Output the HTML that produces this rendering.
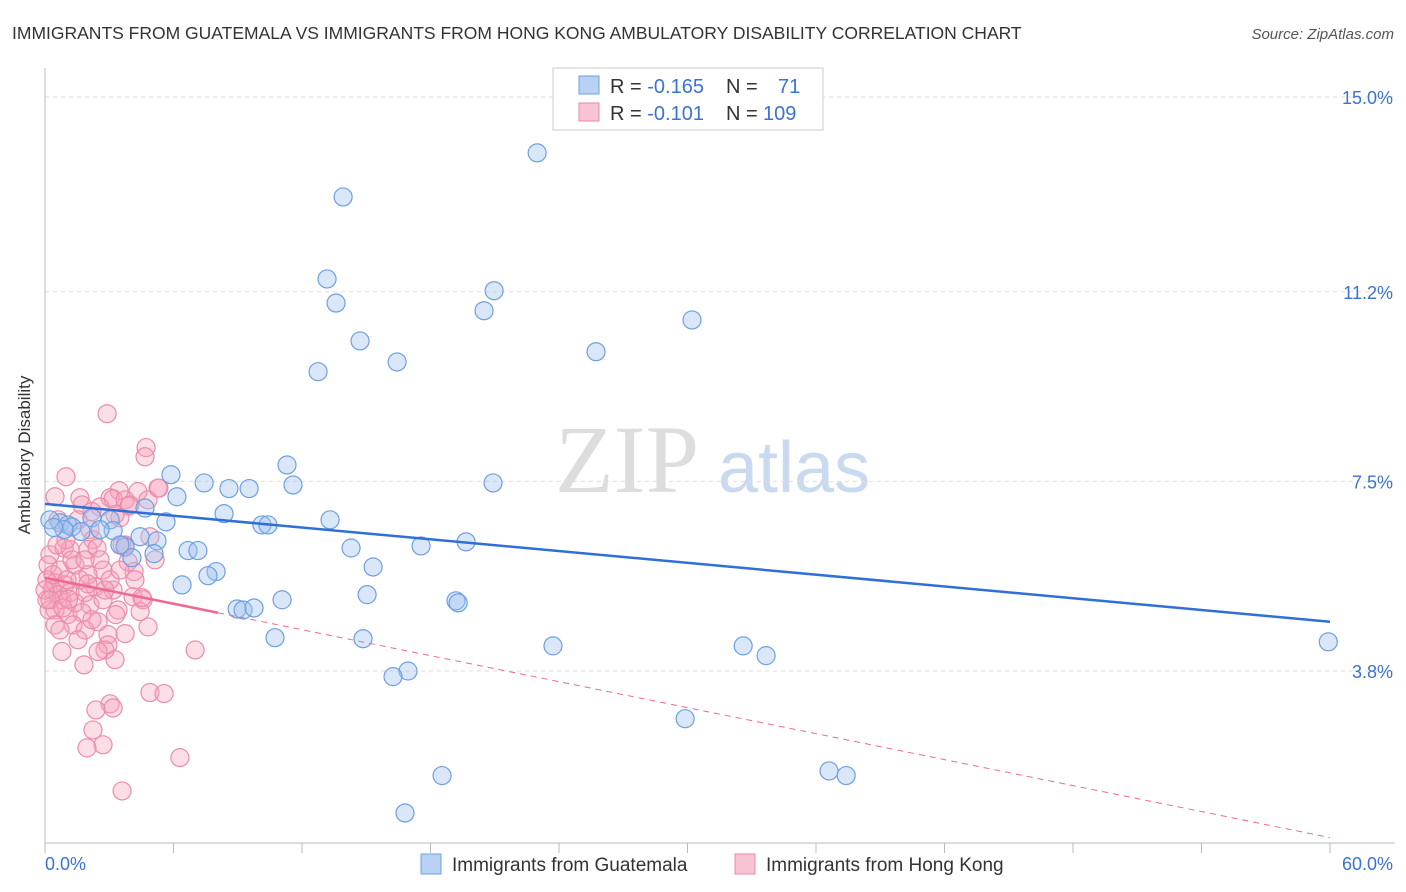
<!DOCTYPE html>
<html><head><meta charset="utf-8"><style>
body{margin:0;background:#fff;font-family:"Liberation Sans",sans-serif;}
#wrap{position:relative;width:1406px;height:892px;overflow:hidden}
</style></head><body>
<div id="wrap">
<svg id="svg" width="1406" height="892" xmlns="http://www.w3.org/2000/svg">
<text x="12" y="39" font-size="17.5" fill="#333">IMMIGRANTS FROM GUATEMALA VS IMMIGRANTS FROM HONG KONG AMBULATORY DISABILITY CORRELATION CHART</text>
<text x="1394" y="39" font-size="15" fill="#555" font-style="italic" text-anchor="end">Source: ZipAtlas.com</text>
<text x="30" y="455" font-size="17" fill="#333" text-anchor="middle" transform="rotate(-90 30 455)">Ambulatory Disability</text>
<text x="555" y="492" font-size="96" fill="#ddd" font-family="Liberation Serif,serif">ZIP</text>
<text x="718" y="492" font-size="72" fill="#c9d9f0">atlas</text>
<g id="grid"></g><g id="axes"></g><g id="pts"></g><g id="trend"></g>
<g>
<rect x="553" y="68" width="270" height="62" fill="#fff" stroke="#ccc"/>
<rect x="579" y="76" width="20" height="18" fill="#b9d1f3" stroke="#6f9fe0"/>
<rect x="579" y="103" width="20" height="18" fill="#f8c3d3" stroke="#e889a8"/>
<text x="610" y="93" font-size="20" fill="#333">R = <tspan fill="#3a73d1">-0.165</tspan><tspan x="726">N =</tspan><tspan x="778" fill="#3a73d1">71</tspan></text>
<text x="610" y="120" font-size="20" fill="#333">R = <tspan fill="#3a73d1"> -0.101</tspan><tspan x="726">N =</tspan><tspan x="763" fill="#3a73d1">109</tspan></text>
</g>
<g>
<rect x="421" y="854" width="20" height="20" fill="#b9d1f3" stroke="#6f9fe0"/>
<text x="452" y="871" font-size="19" fill="#333">Immigrants from Guatemala</text>
<rect x="735" y="854" width="20" height="20" fill="#f8c3d3" stroke="#e889a8"/>
<text x="766" y="871" font-size="19" fill="#333">Immigrants from Hong Kong</text>
</g>
</svg>
</div>
<script>
const yTicks=[3.8,7.5,11.2,15.0];
const yTickLabels=["3.8%","7.5%","11.2%","15.0%"];
const xTickLabels=["0.0%","60.0%"];
const guatX=[22.98,13.92,13.17,20.97,13.59,20.50,30.21,14.71,25.73,16.44,12.75,5.88,11.30,7.43,11.58,8.59,9.53,6.16,20.92,4.67,8.36,13.31,5.65,10.13,10.41,0.70,1.07,1.26,2.19,3.04,3.18,3.74,4.44,5.23,5.09,4.06,6.68,7.14,14.29,17.56,19.66,15.32,7.99,7.61,6.40,15.04,11.07,8.97,9.25,9.76,19.19,19.29,10.74,14.85,23.72,32.60,33.67,16.95,16.25,29.89,18.54,36.61,37.41,16.81,59.92,0.23,2.57,1.68,0.89,3.50,0.4];
const guatY=[13.91,13.05,11.45,11.22,10.98,10.83,10.65,10.24,10.03,9.83,9.64,7.63,7.82,7.47,7.43,7.36,7.36,7.20,7.47,6.98,6.87,6.75,6.71,6.65,6.65,6.69,6.65,6.61,6.79,6.75,6.54,6.22,6.42,6.34,6.09,6.01,6.15,6.15,6.20,6.24,6.32,5.83,5.74,5.66,5.48,5.29,5.19,5.01,4.99,5.03,5.17,5.13,4.45,4.43,4.29,4.29,4.10,3.80,3.69,2.87,1.76,1.85,1.76,1.03,4.37,6.75,6.56,6.52,6.56,6.26,6.6];
const hkX=[2.90,4.72,4.67,0.98,5.32,3.46,0.47,1.63,3.04,3.18,3.74,1.73,2.57,3.92,3.50,0.61,2.10,3.74,2.24,4.90,0.89,5.14,1.17,2.01,2.43,3.60,0.23,0.14,0.70,1.40,2.57,3.88,4.16,2.71,0.09,0.47,0.93,1.63,2.34,0.33,0.61,1.17,1.87,3.18,4.11,4.58,4.44,0.79,1.40,2.10,0.47,1.07,1.73,2.48,1.31,0.47,1.87,3.74,2.94,2.94,2.80,3.27,0.79,1.82,4.81,7.01,4.90,5.56,3.04,3.18,2.38,2.24,2.71,1.96,6.30,3.60,0.19,0.09,0.37,0.98,1.54,2.19,4.34,4.81,5.28,3.97,3.27,4.20,4.53,2.01,2.71,3.41,0.70,1.54,2.48,0,0.56,1.26,3.04,2.19,1.03,1.87,2.80,3.50,0.23,0.84,2.0,1.1,3.3];
const hkY=[8.82,8.16,7.98,7.59,7.37,7.32,7.20,7.18,7.18,7.16,7.14,7.04,7.00,7.02,6.79,6.75,6.56,6.26,6.36,6.42,6.20,5.97,6.17,6.17,6.20,6.26,6.07,5.87,5.77,5.87,5.97,5.93,5.74,5.77,5.58,5.52,5.48,5.58,5.44,5.38,5.29,5.33,5.33,5.38,5.25,5.19,4.96,5.19,5.13,5.09,4.99,4.90,4.94,4.76,4.70,4.70,4.60,4.53,4.51,4.31,4.21,4.02,4.18,3.92,4.66,4.21,3.38,3.36,3.16,3.08,3.04,2.65,2.36,2.30,2.11,1.46,4.99,5.19,5.68,6.36,6.75,6.91,7.30,7.14,7.37,7.04,6.85,5.58,5.23,5.68,5.19,4.99,4.60,4.41,4.18,5.38,6.26,5.97,5.58,4.80,5.58,5.97,5.38,5.77,5.19,5.03,5.5,5.2,4.9];
const guatTrend=[7.06,4.76];
const hkTrend=[5.62,0.55];const hkSolidEnd=8.08;
const X0=45,X1=1330,YT=97,YPX=51.25;
function sx(v){return X0+(v/60)*(X1-X0);}
function sy(v){return YT+(15-v)*YPX;}
const NS="http://www.w3.org/2000/svg";
function mk(tag,attrs,parent){const e=document.createElementNS(NS,tag);for(const k in attrs)e.setAttribute(k,attrs[k]);parent.appendChild(e);return e;}
const grid=document.getElementById('grid'),axes=document.getElementById('axes'),pts=document.getElementById('pts'),trend=document.getElementById('trend');
yTicks.forEach((t,i)=>{
 const l=mk('line',{x1:45,x2:1395,y1:sy(t),y2:sy(t),stroke:'#ddd','stroke-dasharray':'4 4'},grid);
 
 
 const tx=mk('text',{x:1393,y:sy(t)+7,'font-size':18,fill:'#3a73d1','text-anchor':'end'},axes);
 tx.textContent=yTickLabels[i];
 
 
});
const ax=mk('line',{x1:45,x2:1395,y1:843,y2:843,stroke:'#bbb'},axes);


const ay=mk('line',{x1:45,x2:45,y1:68,y2:843,stroke:'#bbb'},axes);


for(let i=0;i<=10;i++){
 const t=mk('line',{x1:sx(i*6),x2:sx(i*6),y1:843,y2:853,stroke:'#bbb'},axes);
 
 
}
[[0,45,'start'],[1,1393,'end']].forEach(([i,x,a])=>{
 const t=mk('text',{x:x,y:870,'font-size':18,fill:'#3a73d1','text-anchor':a},axes);
 t.textContent=xTickLabels[i];
 
 
});
hkX.forEach((v,i)=>{
 const c=mk('circle',{cx:sx(v),cy:sy(hkY[i]),r:9,fill:'rgba(245,160,185,0.35)',stroke:'#ea8cab','stroke-width':1.2},pts);
 
 
});
guatX.forEach((v,i)=>{
 const c=mk('circle',{cx:sx(v),cy:sy(guatY[i]),r:9,fill:'rgba(160,195,240,0.4)',stroke:'#6f9fe0','stroke-width':1.2},pts);
 
 
});
const g1=mk('line',{x1:sx(0),y1:sy(guatTrend[0]),x2:sx(60),y2:sy(guatTrend[1]),stroke:'#2f6fd6','stroke-width':2.5},trend);


const hAt=v=>hkTrend[0]+(hkTrend[1]-hkTrend[0])*v/60;
const h1=mk('line',{x1:sx(0),y1:sy(hkTrend[0]),x2:sx(hkSolidEnd),y2:sy(hAt(hkSolidEnd)),stroke:'#ec6a92','stroke-width':2.5},trend);


const h2=mk('line',{x1:sx(hkSolidEnd),y1:sy(hAt(hkSolidEnd)),x2:sx(60),y2:sy(hkTrend[1]),stroke:'#ec6a92','stroke-width':1,'stroke-dasharray':'6 5'},trend);


</script>
</body></html>
